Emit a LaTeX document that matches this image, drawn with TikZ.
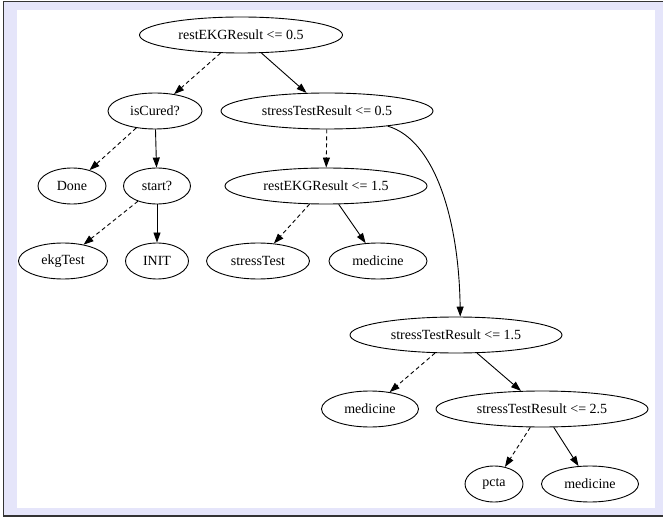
\documentclass[tikz,border=0pt]{standalone}
\usepackage{fontspec}
\setmainfont{Liberation Serif}
\usetikzlibrary{shapes.geometric,arrows.meta}
\definecolor{lav}{RGB}{229,229,250}
\begin{document}
\begin{tikzpicture}[x=1pt,y=-1pt,
  every node/.style={font=\fontsize{14pt}{16pt}\selectfont},
  tnode/.style={ellipse,draw,line width=0.9pt,inner sep=0pt,minimum height=36pt},
  edge/.style={line width=0.9pt,-{Triangle[length=10pt,width=7pt]}},
  yes/.style={edge,dash pattern=on 4pt off 3pt}]
\useasboundingbox (0,0) rectangle (663,518);
\begin{scope}
\clip (0,0) rectangle (663,518);
\fill[lav] (3.5,1.5) rectangle (670,516);
\draw[line width=1.2pt,black!80] (3.5,1.5) rectangle (670,516);
\fill[white] (17,10) rectangle (655,508);
\end{scope}
\node[tnode,minimum width=203pt] (n0) at (241,35) {restEKGResult <= 0.5};
\node[tnode,minimum width=94pt] (n1) at (155,111) {isCured?};
\node[tnode,minimum width=212pt] (n2) at (327,111) {stressTestResult <= 0.5};
\node[tnode,minimum width=68pt] (n3) at (72,186) {Done};
\node[tnode,minimum width=67pt] (n4) at (157,186) {start?};
\node[tnode,minimum width=202pt] (n5) at (326,186) {restEKGResult <= 1.5};
\node[tnode,minimum width=89pt] (n6) at (63,261) {ekgTest};
\node[tnode,minimum width=63pt] (n7) at (157,261) {INIT};
\node[tnode,minimum width=103pt] (n8) at (258,261) {stressTest};
\node[tnode,minimum width=98pt] (n9) at (378,261) {medicine};
\node[tnode,minimum width=212pt] (n10) at (456,335) {stressTestResult <= 1.5};
\node[tnode,minimum width=97pt] (n11) at (370,409) {medicine};
\node[tnode,minimum width=212pt] (n12) at (542,409) {stressTestResult <= 2.5};
\node[tnode,minimum width=58pt] (n13) at (494,484) {pcta};
\node[tnode,minimum width=97pt] (n14) at (590,484) {medicine};
\draw[yes] (n0) -- (n1);
\draw[edge] (n0) -- (n2);
\draw[yes] (n1) -- (n3);
\draw[edge] (n1) -- (n4);
\draw[yes] (n4) -- (n6);
\draw[edge] (n4) -- (n7);
\draw[yes] (n2) -- (n5);
\draw[edge] (n2.-14) .. controls (435,140) and (459,220) .. (n10.77);
\draw[yes] (n5) -- (n8);
\draw[edge] (n5) -- (n9);
\draw[yes] (n10) -- (n11);
\draw[edge] (n10) -- (n12);
\draw[yes] (n12) -- (n13);
\draw[edge] (n12) -- (n14);
\end{tikzpicture}
\end{document}
